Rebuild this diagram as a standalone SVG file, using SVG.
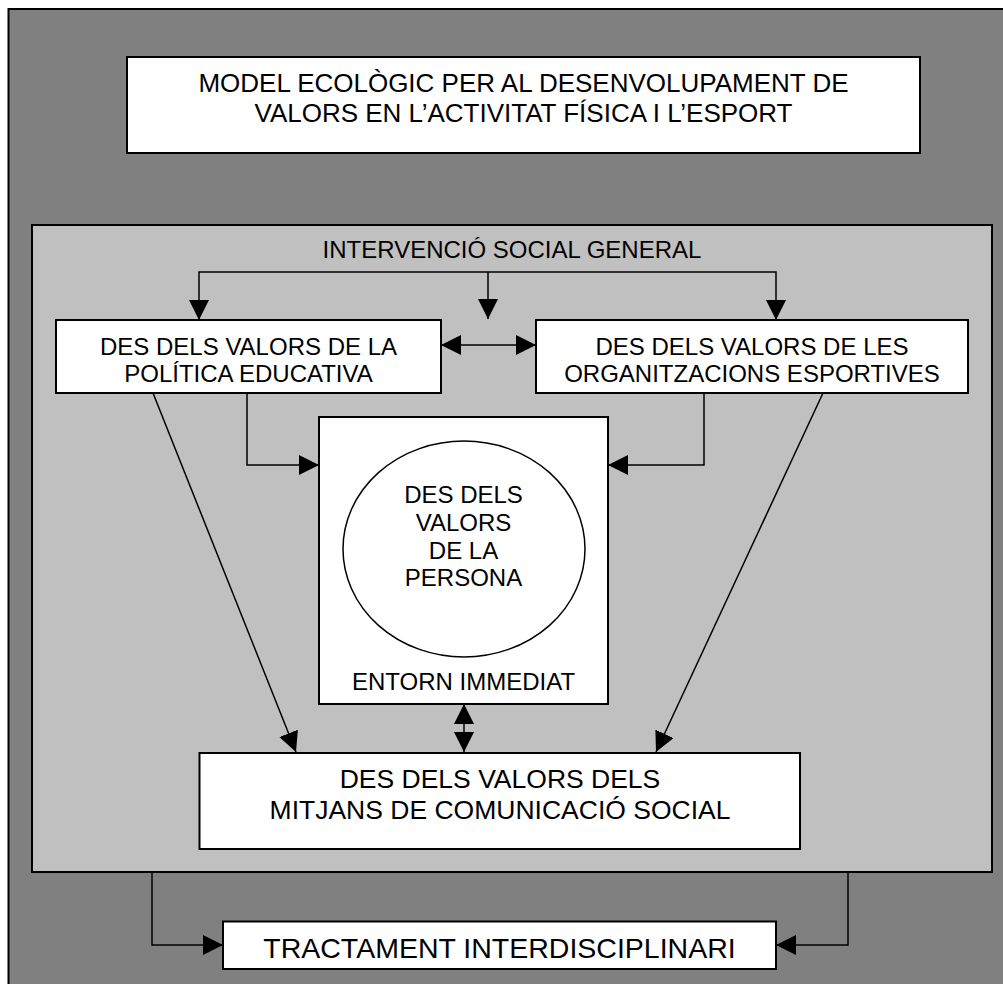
<svg xmlns="http://www.w3.org/2000/svg" width="1003" height="984" viewBox="0 0 1003 984">
<style>
.box{fill:#ffffff;stroke:#000;stroke-width:2}
.t{font-family:"Liberation Sans",Arial,sans-serif;fill:#000;text-anchor:middle}
.c{fill:none;stroke:#000;stroke-width:1.5}
.ce{fill:none;stroke:#000;stroke-width:1.5;marker-end:url(#ah)}
.cd{fill:none;stroke:#000;stroke-width:1.5;marker-start:url(#ah);marker-end:url(#ah)}
</style>
<defs>
<marker id="ah" viewBox="0 0 20 20" markerWidth="20" markerHeight="20" markerUnits="userSpaceOnUse" refX="20" refY="10" orient="auto-start-reverse">
<path d="M0,0 L20,10 L0,20 Z" fill="#000"/>
</marker>
</defs>
<rect width="1003" height="984" fill="#ffffff"/>
<g id="outer-frame">
<rect x="8.5" y="9" width="1010" height="990" fill="#808080" stroke="#000" stroke-width="2"/>
</g>
<g id="title">
<rect class="box" x="127" y="57" width="793" height="96"/>
<text class="t" font-size="26" x="523.5" y="92.3">MODEL ECOLÒGIC PER AL DESENVOLUPAMENT DE</text>
<text class="t" font-size="26" x="523.5" y="122.3">VALORS EN L’ACTIVITAT FÍSICA I L’ESPORT</text>
</g>
<g id="social-general">
<rect x="32" y="225" width="960" height="647" fill="#c0c0c0" stroke="#000" stroke-width="2"/>
<text class="t" font-size="24" x="512" y="257.6">INTERVENCIÓ SOCIAL GENERAL</text>
</g>
<g id="politica-educativa">
<rect class="box" x="56" y="320" width="385" height="73"/>
<text class="t" font-size="24" x="248.5" y="355">DES DELS VALORS DE LA</text>
<text class="t" font-size="24" x="248.5" y="382">POLÍTICA EDUCATIVA</text>
</g>
<g id="organitzacions-esportives">
<rect class="box" x="536" y="320" width="432" height="73"/>
<text class="t" font-size="24" x="752" y="355">DES DELS VALORS DE LES</text>
<text class="t" font-size="24" x="752" y="382">ORGANITZACIONS ESPORTIVES</text>
</g>
<g id="entorn-immediat">
<rect class="box" x="319" y="417" width="289" height="287"/>
<text class="t" font-size="24" x="463.5" y="690">ENTORN IMMEDIAT</text>
</g>
<g id="persona">
<ellipse cx="464" cy="549" rx="121" ry="108" fill="#fff" stroke="#000" stroke-width="1.5"/>
<text class="t" font-size="24" x="463.5" y="503">DES DELS</text>
<text class="t" font-size="24" x="463.5" y="531">VALORS</text>
<text class="t" font-size="24" x="463.5" y="559">DE LA</text>
<text class="t" font-size="24" x="463.5" y="586">PERSONA</text>
</g>
<g id="mitjans">
<rect class="box" x="199.5" y="753" width="600.5" height="96"/>
<text class="t" font-size="26.5" x="500" y="787.5">DES DELS VALORS DELS</text>
<text class="t" font-size="26.5" x="500" y="818.5">MITJANS DE COMUNICACIÓ SOCIAL</text>
</g>
<g id="tractament">
<rect class="box" x="223" y="921.5" width="553" height="47.5"/>
<text class="t" font-size="28.5" x="499.5" y="958">TRACTAMENT INTERDISCIPLINARI</text>
</g>
<g id="connectors">
<path class="ce" d="M488,272 H199 V320"/>
<path class="ce" d="M488,272 H776 V320"/>
<path class="ce" d="M488,272 V319"/>
<path class="cd" d="M441,345 H536"/>
<path class="ce" d="M247,393 V465 H319"/>
<path class="ce" d="M704,393 V465 H608"/>
<path class="ce" d="M153,393 L296,752"/>
<path class="ce" d="M823,393 L656,752"/>
<path class="cd" d="M464,704 V752"/>
<path class="ce" d="M152,873 V945 H223"/>
<path class="ce" d="M848,873 V945 H776"/>
</g>
</svg>
